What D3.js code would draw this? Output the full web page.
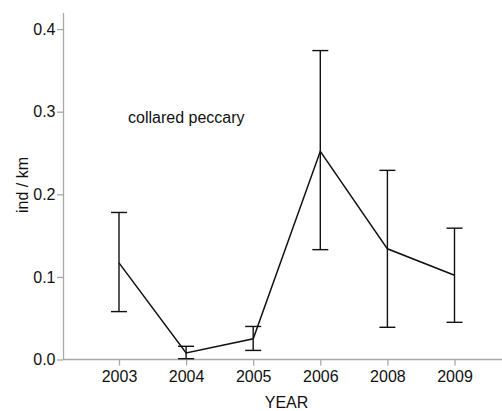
<!DOCTYPE html>
<html>
<head>
<meta charset="utf-8">
<script src="https://cdn.jsdelivr.net/npm/d3@7"></script>
<style>
  html, body { margin: 0; padding: 0; background: #fff; }
  svg { display: block; }
  text { font-family: "Liberation Sans", Arial, sans-serif; fill: #111; }
</style>
</head>
<body>
<svg id="chart" width="502" height="411"></svg>
<script>
// Collared peccary density by survey year (mean with error bars)
const years = ["2003", "2004", "2005", "2006", "2008", "2009"];
const means = [0.117, 0.008, 0.025, 0.252, 0.134, 0.102];
const lower = [0.058, 0.001, 0.011, 0.133, 0.039, 0.045];
const upper = [0.178, 0.016, 0.040, 0.374, 0.229, 0.159];
const yTicks = [0.0, 0.1, 0.2, 0.3, 0.4];

const svg = d3.select("#chart");
const axisColor = "#a8a8a8";
const fontSize = 16;

const plotLeft = 63, plotRight = 502, plotBottom = 359.5;

const x = d3.scalePoint().domain(years).range([119, 454.5]);
const y = d3.scaleLinear().domain([0, 0.42]).range([plotBottom, plotBottom - 0.42 * 826]);

// y axis
const gy = svg.append("g").attr("transform", `translate(${plotLeft},0)`)
  .call(d3.axisLeft(y).tickValues(yTicks).tickFormat(d3.format(".1f")).tickSize(6).tickSizeOuter(0));
gy.select(".domain").attr("stroke", axisColor).attr("stroke-width", 1.3);
gy.selectAll(".tick line").attr("stroke", axisColor).attr("stroke-width", 1.3);
gy.selectAll(".tick text").attr("font-size", fontSize).attr("x", -7.5).style("fill", "#111");

// x axis
const gx = svg.append("g").attr("transform", `translate(0,${plotBottom})`)
  .call(d3.axisBottom(x).tickSize(6).tickSizeOuter(0));
gx.select(".domain").attr("d", `M${plotLeft},0H${plotRight}`).attr("stroke", axisColor).attr("stroke-width", 1.3);
gx.selectAll(".tick line").attr("stroke", axisColor).attr("stroke-width", 1.3);
gx.selectAll(".tick text").attr("font-size", fontSize).attr("y", 11.5).style("fill", "#111");

// error bars
const rows = years.map((yr, i) => ({ yr, m: means[i], lo: lower[i], hi: upper[i] }));
const cap = 8;
const eb = svg.append("g").attr("stroke", "#111").attr("stroke-width", 1.4).attr("fill", "none");
rows.forEach(r => {
  const cx = x(r.yr);
  eb.append("line").attr("x1", cx).attr("x2", cx).attr("y1", y(r.lo)).attr("y2", y(r.hi));
  eb.append("line").attr("x1", cx - cap).attr("x2", cx + cap).attr("y1", y(r.hi)).attr("y2", y(r.hi));
  eb.append("line").attr("x1", cx - cap).attr("x2", cx + cap).attr("y1", y(r.lo)).attr("y2", y(r.lo));
});

// mean line
svg.append("path")
  .datum(rows)
  .attr("fill", "none").attr("stroke", "#111").attr("stroke-width", 1.5)
  .attr("d", d3.line().x(d => x(d.yr)).y(d => y(d.m)));

// labels
svg.append("text").attr("x", 128).attr("y", 123).attr("font-size", fontSize).text("collared peccary");
svg.append("text").attr("x", 286.5).attr("y", 408).attr("font-size", fontSize).attr("text-anchor", "middle").text("YEAR");
svg.append("text").attr("transform", "translate(28,185) rotate(-90)").attr("font-size", fontSize)
  .attr("text-anchor", "middle").text("ind / km");
</script>
</body>
</html>
